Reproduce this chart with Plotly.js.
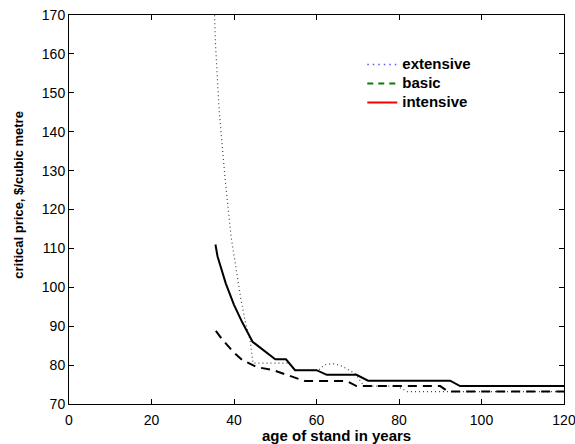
<!DOCTYPE html>
<html>
<head>
<meta charset="utf-8">
<script src="https://cdn.plot.ly/plotly-3.0.1.min.js"></script>
<style>html,body{margin:0;padding:0;background:#fff;}#chart{width:575px;height:444px;}</style>
</head>
<body>
<div id="chart"></div>
<script>
// series names
const seriesNames = ['extensive', 'basic', 'intensive'];

// extensive (dotted)
const ageExtensive = [35.2, 35.5, 36.4, 37.8, 39.3, 40.9, 41.7, 42.9, 43.9, 44.6, 53.3, 54.8, 60.5, 62, 64, 66, 69.3, 71.5, 79.5, 82, 120];
const priceExtensive = [173, 162.7, 145.6, 128.4, 113, 101.9, 96.7, 90.3, 86.5, 80.5, 80.5, 78.7, 78.7, 80.1, 80.4, 79.8, 77.9, 74.6, 74.6, 73.2, 73.2];

// basic (dashed)
const ageBasic = [35.6, 37, 39.8, 42, 45.5, 49.5, 57.2, 67.3, 69.7, 90, 91.9, 120];
const priceBasic = [88.8, 86.8, 83.4, 81.3, 79.5, 78.7, 75.9, 75.9, 74.6, 74.6, 73.2, 73.2];

// intensive (solid)
const ageIntensive = [35.5, 36, 38, 40, 42, 44.5, 50, 52.6, 54.8, 60, 62.5, 69.7, 72.5, 92.4, 94.8, 120];
const priceIntensive = [111, 108, 101, 95.5, 91, 86, 81.5, 81.5, 78.7, 78.7, 77.5, 77.5, 76, 76, 74.6, 74.6];

// axis ticks and titles
const xTicks = [0, 20, 40, 60, 80, 100, 120];
const yTicks = [70, 80, 90, 100, 110, 120, 130, 140, 150, 160, 170];
const xTitle = 'age of stand in years';
const yTitle = 'critical price, $/cubic metre';

const FONT = 'Liberation Sans, Arial, Helvetica, sans-serif';
const legendName = n => '<span style="font-size:15px">' + n + '</span>';

const traces = [
  {x: ageExtensive, y: priceExtensive, mode: 'lines', showlegend: false, hoverinfo: 'skip',
   line: {color: '#444', width: 1.2, dash: '1px,3px'}},
  {x: ageBasic, y: priceBasic, mode: 'lines', showlegend: false, hoverinfo: 'skip',
   line: {color: '#000', width: 2, dash: '9px,6px'}},
  {x: ageIntensive, y: priceIntensive, mode: 'lines', showlegend: false, hoverinfo: 'skip',
   line: {color: '#000', width: 2}},
  // legend entries (MATLAB-style coloured samples)
  {x: [null], y: [null], mode: 'lines', name: legendName(seriesNames[0]),
   line: {color: '#5555ff', width: 1.5, dash: '1.5px,4px'}},
  {x: [null], y: [null], mode: 'lines', name: legendName(seriesNames[1]),
   line: {color: '#008000', width: 2, dash: '6px,5px'}},
  {x: [null], y: [null], mode: 'lines', name: legendName(seriesNames[2]),
   line: {color: '#ff0000', width: 2}}
];

const axisCommon = {
  showline: true, linecolor: '#000', linewidth: 1, mirror: 'ticks',
  ticks: 'inside', ticklen: 5, tickcolor: '#000', tickwidth: 1,
  showgrid: false, zeroline: false, ticklabeloverflow: 'allow',
  tickfont: {family: FONT, size: 14, color: '#000'}
};

const layout = {
  width: 575, height: 444,
  margin: {l: 69, r: 11, t: 15, b: 40},
  paper_bgcolor: '#fff', plot_bgcolor: '#fff',
  showlegend: true,
  legend: {
    x: 0.5925, y: 0.910, xanchor: 'left', yanchor: 'top',
    bgcolor: 'rgba(0,0,0,0)', borderwidth: 0,
    font: {family: FONT, size: 12, color: '#000', weight: 'bold'},
    tracegroupgap: 0
  },
  xaxis: Object.assign({}, axisCommon, {
    range: [0, 120], tickvals: xTicks, ticktext: xTicks.map(String), ticklabelstandoff: 3
  }),
  yaxis: Object.assign({}, axisCommon, {
    range: [70, 170], tickvals: yTicks, ticktext: yTicks.map(String)
  }),
  annotations: [
    {text: '<b>' + xTitle + '</b>', xref: 'paper', yref: 'paper', x: 0.540, y: -0.0797,
     xanchor: 'center', yanchor: 'middle', showarrow: false,
     font: {family: FONT, size: 15, color: '#000'}},
    {text: '<b>' + yTitle + '</b>', xref: 'paper', yref: 'paper', x: -0.1038, y: 0.537,
     xanchor: 'center', yanchor: 'middle', showarrow: false, textangle: -90,
     font: {family: FONT, size: 13, color: '#000'}}
  ]
};

Plotly.newPlot('chart', traces, layout, {staticPlot: true, displayModeBar: false});
</script>
</body>
</html>
